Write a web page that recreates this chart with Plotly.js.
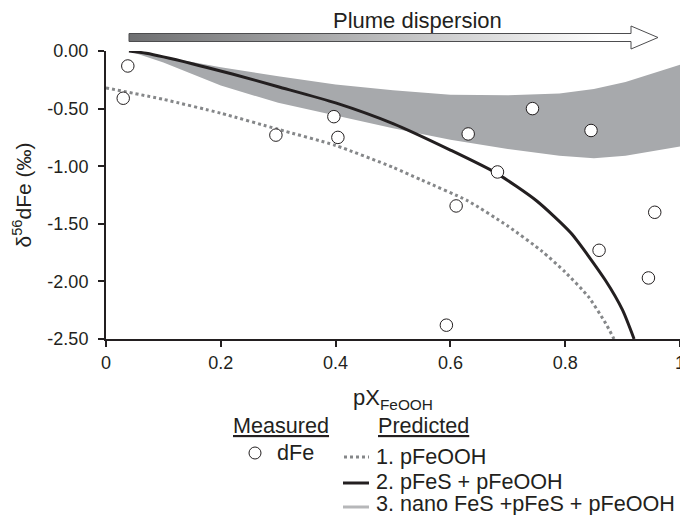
<!DOCTYPE html>
<html>
<head>
<meta charset="utf-8">
<script src="https://cdn.plot.ly/plotly-3.0.1.min.js"></script>
<style>
html,body{margin:0;padding:0;background:#fff;}
#chart{width:680px;height:515px;}
</style>
</head>
<body>
<div id="chart"></div>
<script>
// ---------- data ----------
const xTickVals = [0, 0.2, 0.4, 0.6, 0.8, 1];
const xTickText = ['0', '0.2', '0.4', '0.6', '0.8', '1'];
const yTickVals = [0, -0.5, -1, -1.5, -2, -2.5];
const yTickText = ['0.00', '-0.50', '-1.00', '-1.50', '-2.00', '-2.50'];

// measured dFe
const measX = [0.030, 0.038, 0.296, 0.397, 0.404, 0.593, 0.610, 0.631, 0.682, 0.743, 0.845, 0.859, 0.945, 0.956];
const measY = [-0.41, -0.13, -0.73, -0.57, -0.75, -2.38, -1.345, -0.72, -1.05, -0.50, -0.69, -1.73, -1.97, -1.40];

// 1. pFeOOH (dotted)
const p1X = [0, 0.1, 0.2, 0.3, 0.4, 0.5, 0.55, 0.63, 0.7, 0.76, 0.8, 0.84, 0.87, 0.885];
const p1Y = [-0.32, -0.42, -0.54, -0.68, -0.82, -1.01, -1.12, -1.30, -1.52, -1.74, -1.92, -2.13, -2.36, -2.50];

// 2. pFeS + pFeOOH (solid black)
const p2X = [0.04, 0.07, 0.15, 0.22, 0.30, 0.40, 0.50, 0.60, 0.68, 0.75, 0.81, 0.87, 0.90, 0.92];
const p2Y = [0.00, -0.02, -0.11, -0.20, -0.31, -0.45, -0.63, -0.86, -1.06, -1.30, -1.58, -1.99, -2.25, -2.50];

// 3. nano FeS + pFeS + pFeOOH (grey band)
const bandX = [0.04, 0.1, 0.2, 0.3, 0.4, 0.5, 0.6, 0.7, 0.79, 0.85, 0.905, 0.95, 1.0];
const bandTop = [0.00, -0.05, -0.14, -0.22, -0.29, -0.34, -0.38, -0.385, -0.37, -0.33, -0.27, -0.20, -0.12];
const bandBot = [0.00, -0.10, -0.30, -0.45, -0.56, -0.67, -0.77, -0.85, -0.91, -0.93, -0.91, -0.87, -0.83];

const legendMeasured = ['Measured', 'dFe'];
const legendPredicted = ['Predicted', '1. pFeOOH', '2. pFeS + pFeOOH', '3. nano FeS +pFeS + pFeOOH'];

// ---------- styling ----------
const FONT = 'Liberation Sans, Arial, Helvetica, sans-serif';
const INK = '#231f20';
const BAND = '#a7a9ac';
const DOT = '#858789';
const L = 106, T = 51, W = 574, H = 288;
const PX = p => (p - L) / W;
const PY = p => (T + H - p) / H;

const traces = [
  {x: bandX, y: bandTop, type: 'scatter', mode: 'lines', line: {width: 0, color: BAND}, showlegend: false, hoverinfo: 'skip'},
  {x: bandX, y: bandBot, type: 'scatter', mode: 'lines', fill: 'tonexty', fillcolor: BAND, line: {width: 0, color: BAND}, name: legendPredicted[3], showlegend: false},
  {x: p1X, y: p1Y, type: 'scatter', mode: 'lines', line: {color: DOT, width: 3, dash: 'dot', shape: 'spline', smoothing: 0.6}, name: legendPredicted[1], showlegend: false},
  {x: p2X, y: p2Y, type: 'scatter', mode: 'lines', line: {color: INK, width: 3, shape: 'spline', smoothing: 0.6}, name: legendPredicted[2], showlegend: false},
  {x: measX, y: measY, type: 'scatter', mode: 'markers', marker: {symbol: 'circle', size: 12.5, color: '#ffffff', line: {color: INK, width: 1}}, name: legendMeasured[1], showlegend: false}
];

const arrowSvg = '<svg xmlns="http://www.w3.org/2000/svg" width="537" height="26" viewBox="0 0 537 26" preserveAspectRatio="none">' +
  '<defs><linearGradient id="g" x1="0" y1="0" x2="1" y2="0"><stop offset="0" stop-color="#6e6f71"/><stop offset="0.9" stop-color="#ffffff"/></linearGradient></defs>' +
  '<path d="M4,9.5 H506 V2 L533,13.5 L506,25 V17.5 H4 Z" fill="url(#g)" stroke="#4d4d4f" stroke-width="1"/></svg>';

const ann = (text, px, py, size, extra) => Object.assign({
  text: text, xref: 'paper', yref: 'paper', x: PX(px), y: PY(py),
  xanchor: 'left', yanchor: 'middle', showarrow: false,
  font: {family: FONT, size: size, color: INK}
}, extra || {});

const LEG = 21.6;

const layout = {
  width: 680, height: 515,
  margin: {l: L, r: 0, t: T, b: 515 - T - H, pad: 0},
  paper_bgcolor: '#ffffff', plot_bgcolor: '#ffffff',
  showlegend: false,
  font: {family: FONT, color: INK, size: 18},
  xaxis: {
    range: [0, 1], tickvals: xTickVals, ticktext: xTickText, ticklabeloverflow: 'allow',
    showgrid: false, zeroline: false, showline: true, linecolor: INK, linewidth: 2,
    ticks: 'outside', ticklen: 6, tickwidth: 2, tickcolor: INK,
    tickfont: {family: FONT, size: 18, color: INK},
    title: {text: 'pX<sub>FeOOH</sub>', font: {family: FONT, size: 22, color: INK}, standoff: 18}
  },
  yaxis: {
    range: [-2.5, 0], tickvals: yTickVals, ticktext: yTickText,
    showgrid: false, zeroline: false, showline: true, linecolor: INK, linewidth: 2,
    ticks: 'outside', ticklen: 6, tickwidth: 2, tickcolor: INK, ticklabelstandoff: 6,
    tickfont: {family: FONT, size: 18, color: INK},
    title: {text: 'δ<sup>56</sup>dFe (‰)', font: {family: FONT, size: 21, color: INK}, standoff: 10}
  },
  images: [{
    source: 'data:image/svg+xml;charset=utf-8,' + encodeURIComponent(arrowSvg),
    xref: 'paper', yref: 'paper', x: PX(125), y: PY(24), sizex: 537 / W, sizey: 26 / H,
    xanchor: 'left', yanchor: 'top', sizing: 'stretch', layer: 'above'
  }],
  annotations: [
    ann('Plume dispersion', 331, 21, 22),
    ann('<u>' + legendMeasured[0] + '</u>', 231, 425, LEG),
    ann('<u>' + legendPredicted[0] + '</u>', 376, 425, LEG),
    ann(legendMeasured[1], 275, 452, LEG),
    ann(legendPredicted[1], 374, 456, LEG),
    ann(legendPredicted[2], 374, 481, LEG),
    ann(legendPredicted[3], 374, 503.5, LEG)
  ],
  shapes: [
    {type: 'circle', xref: 'paper', yref: 'paper', x0: PX(249), x1: PX(261), y0: PY(447), y1: PY(459), line: {color: INK, width: 1}, fillcolor: '#ffffff'},
    {type: 'line', xref: 'paper', yref: 'paper', x0: PX(344), x1: PX(369), y0: PY(457), y1: PY(457), line: {color: DOT, width: 3, dash: 'dot'}},
    {type: 'line', xref: 'paper', yref: 'paper', x0: PX(343), x1: PX(369), y0: PY(483), y1: PY(483), line: {color: INK, width: 3}},
    {type: 'line', xref: 'paper', yref: 'paper', x0: PX(343), x1: PX(369), y0: PY(507), y1: PY(507), line: {color: '#b6b7b9', width: 3}}
  ]
};

Plotly.newPlot('chart', traces, layout, {displayModeBar: false, staticPlot: true});
</script>
</body>
</html>
